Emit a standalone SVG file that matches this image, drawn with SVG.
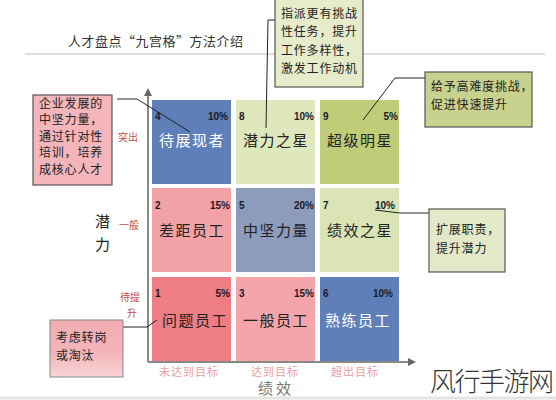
<svg xmlns="http://www.w3.org/2000/svg" width="556" height="400" viewBox="0 0 556 400">
<defs>
<style>
text{font-family:"Noto Sans CJK SC","Liberation Sans",sans-serif;}
.num{font-family:"Liberation Sans",Arial,sans-serif;font-weight:bold;font-size:10px;fill:#1a1a2a;}
.main{font-size:15px;letter-spacing:1.5px;text-anchor:middle;fill:#222;}
.w{fill:#fff;}
.cb{stroke:#555;stroke-width:1.2;}
.ct{font-size:12px;letter-spacing:0.8px;fill:#222;}
.lab{font-size:10px;fill:#c0504d;}
.bot{font-size:11px;fill:#e4a0a8;letter-spacing:1px;text-anchor:middle;}
.conn{fill:none;stroke:#222;stroke-width:1;}
.axis{stroke:#888;stroke-width:2;fill:none;}
</style>
<marker id="ah" viewBox="0 0 10 10" refX="5" refY="5" markerWidth="4" markerHeight="4" orient="auto"><path d="M0,0 L10,5 L0,10 z" fill="#666"/></marker>
<linearGradient id="pk" x1="0" y1="0" x2="0" y2="1"><stop offset="0" stop-color="#f2adb2"/><stop offset="0.6" stop-color="#f3b5ba"/><stop offset="1" stop-color="#f9d6d8"/></linearGradient>
</defs>
<rect width="556" height="400" fill="#fff"/>
<g id="title">
<text x="68" y="46" font-size="13" fill="#333" letter-spacing="0.5">人才盘点“九宫格”方法介绍</text>
<line x1="25" y1="54" x2="545" y2="54" stroke="#bbb" stroke-width="1"/>
</g>
<g id="axes">
<line class="axis" x1="148" y1="362" x2="148" y2="92" marker-end="url(#ah)"/>
<line class="axis" x1="148" y1="362" x2="412" y2="362" marker-end="url(#ah)"/>
<text x="95" y="227" font-size="15" fill="#222">潜</text>
<text x="95" y="250" font-size="15" fill="#222">力</text>
<text class="lab" x="118" y="141">突出</text>
<text class="lab" x="119" y="229">一般</text>
<text class="lab" x="120" y="301">待提</text>
<text class="lab" x="127" y="317">升</text>
<text class="bot" x="189" y="376">未达到目标</text>
<text class="bot" x="275" y="376">达到目标</text>
<text class="bot" x="355" y="376">超出目标</text>
<text x="258" y="394" font-size="15" fill="#777" letter-spacing="3">绩效</text>
</g>
<g id="cell4"><rect x="152" y="100" width="79" height="84" fill="#5f7fb8"/><text class="num" x="155" y="120">4</text><text class="num" x="228" y="120" text-anchor="end">10%</text><text class="main w" x="192" y="146">待展现者</text></g>
<g id="cell8"><rect x="236" y="100" width="79" height="84" fill="#dfe7bd"/><text class="num" x="239" y="120">8</text><text class="num" x="314" y="120" text-anchor="end">10%</text><text class="main" x="276" y="146">潜力之星</text></g>
<g id="cell9"><rect x="320" y="100" width="79" height="84" fill="#bfcc78"/><text class="num" x="323" y="120">9</text><text class="num" x="398" y="120" text-anchor="end">5%</text><text class="main" x="360" y="146">超级明星</text></g>
<g id="cell2"><rect x="152" y="188" width="79" height="84" fill="#f2a2a6"/><text class="num" x="155" y="209">2</text><text class="num" x="230" y="209" text-anchor="end">15%</text><text class="main" x="192" y="236">差距员工</text></g>
<g id="cell5"><rect x="236" y="188" width="79" height="84" fill="#8d9bbd"/><text class="num" x="239" y="209">5</text><text class="num" x="314" y="209" text-anchor="end">20%</text><text class="main" x="276" y="236">中坚力量</text></g>
<g id="cell7"><rect x="320" y="188" width="79" height="84" fill="#dbe4b5"/><text class="num" x="323" y="209">7</text><text class="num" x="395" y="209" text-anchor="end">10%</text><text class="main" x="360" y="236">绩效之星</text></g>
<g id="cell1"><rect x="152" y="277" width="79" height="84" fill="#ee7d84"/><text class="num" x="155" y="297">1</text><text class="num" x="230" y="297" text-anchor="end">5%</text><text class="main" x="195" y="326">问题员工</text></g>
<g id="cell3"><rect x="236" y="277" width="79" height="84" fill="#f4a5aa"/><text class="num" x="239" y="297">3</text><text class="num" x="314" y="297" text-anchor="end">15%</text><text class="main" x="276" y="326">一般员工</text></g>
<g id="cell6"><rect x="320" y="277" width="79" height="84" fill="#5f7fb8"/><text class="num" x="323" y="297">6</text><text class="num" x="393" y="297" text-anchor="end">10%</text><text class="main w" x="358" y="326">熟练员工</text></g>
<g id="connectors">
<polyline class="conn" points="117,99 137,99 190,132"/>
<polyline class="conn" points="275,20 268,20 266,128"/>
<polyline class="conn" points="425,78 395,78 363,120"/>
<polyline class="conn" points="429,213 400,213 375,210"/>
<polyline class="conn" points="123,327 147,327 157,320"/>
</g>
<g id="note-left"><rect class="cb" x="33" y="95" width="79" height="90" fill="#f4b6bb"/>
<text class="ct" x="39" y="108">企业发展的</text><text class="ct" x="39" y="124">中坚力量，</text><text class="ct" x="39" y="141">通过针对性</text><text class="ct" x="39" y="157">培训，培养</text><text class="ct" x="39" y="174">成核心人才</text></g>
<g id="note-top"><rect class="cb" x="275" y="-2" width="88" height="89" fill="#e6ecc9"/>
<text class="ct" x="281" y="18">指派更有挑战</text><text class="ct" x="281" y="36">性任务，提升</text><text class="ct" x="281" y="55">工作多样性，</text><text class="ct" x="281" y="73">激发工作动机</text></g>
<g id="note-right1"><rect class="cb" x="425" y="72" width="107" height="55" fill="#c8d28e"/>
<text class="ct" x="431" y="91">给予高难度挑战，</text><text class="ct" x="431" y="109">促进快速提升</text></g>
<g id="note-right2"><rect class="cb" x="429" y="209" width="76" height="63" fill="#e3e9c8"/>
<text class="ct" x="436" y="234">扩展职责，</text><text class="ct" x="436" y="253">提升潜力</text></g>
<g id="note-bottom"><rect x="50" y="320" width="73" height="57" fill="url(#pk)" stroke="#888" stroke-width="1"/>
<text class="ct" x="56" y="342">考虑转岗</text><text class="ct" x="56" y="360">或淘汰</text></g>
<g id="watermark">
<text x="430" y="391" font-size="26" font-weight="300" fill="#333" textLength="124">风行手游网</text>
<line x1="0" y1="398" x2="556" y2="398" stroke="#e4e4e4" stroke-width="3"/>
</g>
</svg>
